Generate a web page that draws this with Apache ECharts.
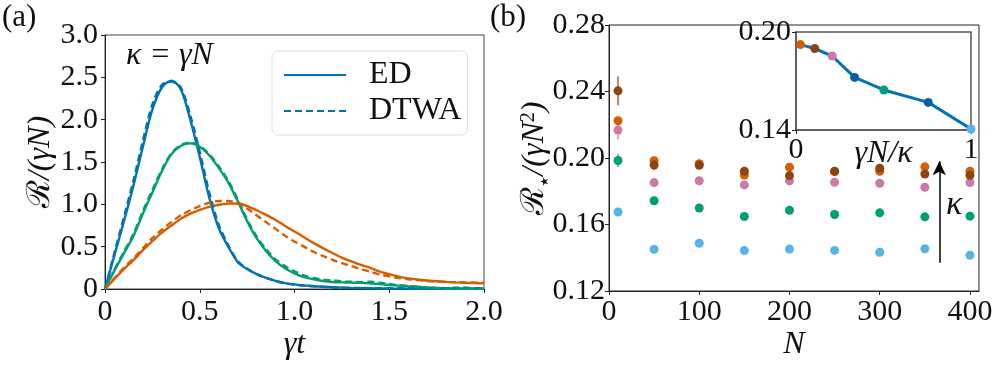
<!DOCTYPE html>
<html>
<head>
<meta charset="utf-8">
<script src="https://cdn.jsdelivr.net/npm/echarts/dist/echarts.min.js"></script>
<style>
  html, body { margin: 0; padding: 0; background: #fff; }
  #chart { width: 997px; height: 366px; }
</style>
</head>
<body>
<div id="chart"></div>
<script>
  // panel (a): emission rate vs time
  const tVals = [0, 0.05, 0.1, 0.15, 0.2, 0.25, 0.3, 0.35, 0.4, 0.45, 0.5, 0.55, 0.6, 0.65, 0.7, 0.75, 0.8, 0.85, 0.9, 0.95,
    1, 1.05, 1.1, 1.15, 1.2, 1.25, 1.3, 1.35, 1.4, 1.45, 1.5, 1.55, 1.6, 1.65, 1.7, 1.75, 1.8, 1.85, 1.9, 1.95, 2]
  const blueED = [0, 0.40, 0.80, 1.22, 1.68, 2.12, 2.38, 2.46, 2.36, 2.00, 1.56, 1.08, 0.72, 0.50, 0.32, 0.235, 0.175, 0.13, 0.095, 0.07,
    0.054, 0.043, 0.034, 0.027, 0.021, 0.016, 0.012, 0.010, 0.008, 0.006, 0.005, 0.004, 0.004, 0.003, 0.003, 0.002, 0.002, 0.002, 0.002, 0.002, 0.002]
  const blueDTWA = [0, 0.43, 0.85, 1.28, 1.75, 2.18, 2.41, 2.45, 2.38, 2.05, 1.62, 1.14, 0.76, 0.52, 0.33, 0.24, 0.175, 0.13, 0.095, 0.068,
    0.05, 0.04, 0.032, 0.026, 0.02, 0.017, 0.014, 0.012, 0.01, 0.01, 0.009, 0.008, 0.01, 0.012, 0.01, 0.008, 0.01, 0.014, 0.016, 0.01, 0.008]
  const greenED = [0, 0.22, 0.42, 0.625, 0.89, 1.14, 1.39, 1.59, 1.69, 1.72, 1.68, 1.58, 1.43, 1.26, 1.04, 0.80, 0.60, 0.45, 0.33, 0.245,
    0.185, 0.14, 0.115, 0.095, 0.083, 0.078, 0.075, 0.072, 0.066, 0.058, 0.048, 0.04, 0.032, 0.026, 0.018, 0.012, 0.008, 0.006, 0.005, 0.004, 0.004]
  const greenDTWA = [0, 0.23, 0.44, 0.65, 0.92, 1.17, 1.41, 1.60, 1.70, 1.73, 1.69, 1.59, 1.45, 1.28, 1.06, 0.82, 0.62, 0.47, 0.35, 0.27,
    0.21, 0.16, 0.13, 0.11, 0.10, 0.09, 0.085, 0.08, 0.085, 0.075, 0.06, 0.045, 0.035, 0.025, 0.018, 0.012, 0.01, 0.008, 0.006, 0.005, 0.005]
  const orangeED = [0, 0.12, 0.235, 0.34, 0.46, 0.565, 0.665, 0.75, 0.83, 0.89, 0.935, 0.97, 0.995, 1.008, 1.01, 0.98, 0.93, 0.875, 0.815, 0.745,
    0.68, 0.612, 0.545, 0.483, 0.425, 0.37, 0.325, 0.285, 0.25, 0.205, 0.175, 0.146, 0.125, 0.112, 0.1, 0.092, 0.084, 0.078, 0.073, 0.069, 0.066]
  const orangeDTWA = [0, 0.13, 0.25, 0.36, 0.48, 0.60, 0.70, 0.79, 0.87, 0.93, 0.98, 1.02, 1.04, 1.04, 1.01, 0.95, 0.87, 0.79, 0.71, 0.63,
    0.56, 0.50, 0.44, 0.39, 0.345, 0.305, 0.27, 0.235, 0.205, 0.17, 0.15, 0.13, 0.115, 0.105, 0.095, 0.088, 0.082, 0.08, 0.078, 0.076, 0.075]

  // panel (b): peak rate vs N
  const nVals = [10, 50, 100, 150, 200, 250, 300, 350, 400]
  const rLightBlue = [0.1675, 0.1450, 0.1487, 0.1443, 0.1452, 0.1444, 0.1433, 0.1454, 0.1415]
  const rGreen = [0.1985, 0.1743, 0.1699, 0.1648, 0.1685, 0.1660, 0.1670, 0.1646, 0.1650]
  const rPink = [0.2168, 0.1852, 0.1863, 0.1838, 0.1863, 0.1854, 0.1848, 0.1824, 0.1852]
  const rOrange = [0.2224, 0.1984, 0.1966, 0.1898, 0.1945, 0.1918, 0.1920, 0.1947, 0.1921]
  const rBrown = [0.2404, 0.1958, 0.1956, 0.1920, 0.1894, 0.1920, 0.1939, 0.1904, 0.1896]
  const eLightBlue = [0.0024, 0, 0, 0, 0, 0, 0, 0, 0]
  const eGreen = [0.004, 0, 0, 0, 0, 0, 0, 0, 0]
  const ePink = [0.0055, 0.001, 0, 0, 0, 0, 0, 0, 0]
  const eOrange = [0.002, 0, 0, 0, 0, 0, 0, 0, 0]
  const eBrown = [0.0087, 0.003, 0.0015, 0.001, 0, 0, 0.001, 0, 0]
  const nTicks = [0, 100, 200, 300, 400]
  const rTicks = [0.12, 0.16, 0.2, 0.24, 0.28]

  // inset: large-N value vs gammaN/kappa
  const insetX = [0.025, 0.107, 0.207, 0.335, 0.502, 0.756, 1]
  const insetY = [0.1923, 0.1899, 0.1853, 0.1722, 0.1645, 0.1569, 0.1406]
  const insetColors = ['#d55e00', '#8b4513', '#cc79a7', '#0a5f9e', '#009e73', '#0a5f9e', '#56b4e9']

  const SERIF = 'Liberation Serif'
  const BLUE = '#0173b2'
  const GREEN = '#029e73'
  const ORANGE = '#d55e00'

  const pairs = (xs, ys) => xs.map((x, i) => [x, ys[i]])
  const fmt1 = v => (v === 0 ? '0' : v.toFixed(1))

  let chart = echarts.init(document.getElementById('chart'))

  function curve(name, ys, color, dashed) {
    return {
      name: name,
      type: 'line',
      xAxisIndex: 0,
      yAxisIndex: 0,
      data: pairs(tVals, ys),
      smooth: 0.3,
      symbol: 'none',
      lineStyle: { color: color, width: 2.4, type: dashed ? [7, 4] : 'solid' },
      itemStyle: { color: color },
      z: dashed ? 3 : 2
    }
  }

  function dots(ys, color) {
    return {
      type: 'scatter',
      xAxisIndex: 1,
      yAxisIndex: 1,
      data: pairs(nVals, ys),
      symbolSize: 9,
      itemStyle: { color: color, opacity: 1 },
      z: 3
    }
  }

  function errBars(ys, errs, color) {
    return {
      type: 'custom',
      xAxisIndex: 1,
      yAxisIndex: 1,
      data: nVals.map((n, i) => [n, ys[i], errs[i]]),
      renderItem: (params, api) => {
        let lo = api.coord([api.value(0), api.value(1) - api.value(2)])
        let hi = api.coord([api.value(0), api.value(1) + api.value(2)])
        return {
          type: 'line',
          shape: { x1: lo[0], y1: lo[1], x2: hi[0], y2: hi[1] },
          style: { stroke: color, lineWidth: 2.2, opacity: 0.6 }
        }
      },
      z: 2
    }
  }

  function label(extra) {
    return Object.assign({ color: '#111', fontFamily: SERIF, fontSize: 30 }, extra)
  }
  function tick(extra) {
    return Object.assign({ inside: false, length: 4, lineStyle: { color: '#222' } }, extra)
  }
  const nameStyle = { color: '#111', fontFamily: SERIF, fontSize: 32, fontStyle: 'italic' }
  const plainLine = { lineStyle: { color: '#222', width: 1 } }
  const insetLine = { lineStyle: { color: '#555', width: 1.5 } }

  chart.setOption({
    animationDuration: 0,
    animationDurationUpdate: 0,
    textStyle: { fontFamily: SERIF },
    grid: [
      { left: 105, top: 35, width: 379, height: 258, show: true, borderColor: '#444', borderWidth: 1 },
      { left: 609, top: 25, width: 370, height: 275, show: true, borderColor: '#222', borderWidth: 1 },
      { left: 796, top: 32, width: 175, height: 98, show: true, borderColor: '#555', borderWidth: 1.5, backgroundColor: '#fff' }
    ],
    xAxis: [
      {
        gridIndex: 0, type: 'value', min: 0, max: 2, interval: 0.5,
        name: 'γt', nameLocation: 'middle', nameGap: 40, nameMoveOverlap: false, nameTextStyle: nameStyle,
        axisLine: plainLine, axisTick: tick({}), splitLine: { show: false },
        axisLabel: label({ margin: 8, formatter: fmt1 })
      },
      {
        gridIndex: 1, type: 'value', min: 0, max: 410,
        name: 'N', nameLocation: 'middle', nameGap: 38, nameMoveOverlap: false, nameTextStyle: nameStyle,
        axisLine: plainLine, axisTick: tick({ customValues: nTicks }), splitLine: { show: false },
        axisLabel: label({ margin: 6, customValues: nTicks })
      },
      {
        gridIndex: 2, type: 'value', min: 0, max: 1,
        name: 'γN/κ', nameLocation: 'middle', nameGap: 8, nameMoveOverlap: false, nameTextStyle: nameStyle,
        axisLine: insetLine, axisTick: tick({ customValues: [0, 1] }), splitLine: { show: false },
        axisLabel: label({ margin: 5, customValues: [0, 1] })
      }
    ],
    yAxis: [
      {
        gridIndex: 0, type: 'value', min: 0, max: 3, interval: 0.5,
        name: '{r|ℛ}{n|/(γN)}', nameLocation: 'middle', nameGap: 48, nameMoveOverlap: false,
        nameTextStyle: {
          rich: {
            r: { fontFamily: SERIF, fontSize: 32, color: '#111' },
            n: { fontFamily: SERIF, fontSize: 32, fontStyle: 'italic', color: '#111' }
          }
        },
        axisLine: plainLine, axisTick: tick({}), splitLine: { show: false },
        axisLabel: label({ margin: 7, formatter: fmt1 })
      },
      {
        gridIndex: 1, type: 'value', min: 0.12, max: 0.28,
        name: '{r|ℛ}{s|★}{n|/(γN}{p|2}{n|)}', nameLocation: 'middle', nameGap: 58, nameMoveOverlap: false,
        nameTextStyle: {
          rich: {
            r: { fontFamily: SERIF, fontSize: 32, color: '#111' },
            s: { fontFamily: 'DejaVu Sans', fontSize: 11, color: '#111', verticalAlign: 'bottom', padding: [16, 1, 0, 0] },
            n: { fontFamily: SERIF, fontSize: 32, fontStyle: 'italic', color: '#111' },
            p: { fontFamily: SERIF, fontSize: 20, color: '#111', verticalAlign: 'top', padding: [0, 0, 12, 0] }
          }
        },
        axisLine: plainLine, axisTick: tick({ customValues: rTicks }), splitLine: { show: false },
        axisLabel: label({ margin: 4, customValues: rTicks, formatter: v => v.toFixed(2) })
      },
      {
        gridIndex: 2, type: 'value', min: 0.14, max: 0.2,
        axisLine: insetLine, axisTick: tick({ customValues: [0.14, 0.2] }), splitLine: { show: false },
        axisLabel: label({ margin: 5, customValues: [0.14, 0.2], formatter: v => v.toFixed(2) })
      }
    ],
    legend: {
      data: ['ED', 'DTWA'],
      orient: 'vertical',
      left: 272,
      top: 51,
      padding: [8, 6, 8, 11],
      itemGap: 4,
      itemWidth: 62,
      itemHeight: 14,
      itemStyle: { opacity: 0 },
      borderColor: '#ddd',
      borderWidth: 1,
      borderRadius: 6,
      textStyle: { fontFamily: SERIF, fontSize: 32, color: '#111', padding: [0, 0, 0, 18] }
    },
    graphic: [
      { type: 'text', left: 2, top: 2, style: { text: '(a)', fontFamily: SERIF, fontSize: 31, fill: '#111' } },
      { type: 'text', left: 490, top: 2, style: { text: '(b)', fontFamily: SERIF, fontSize: 31, fill: '#111' } },
      { type: 'text', left: 126, top: 40, style: { text: 'κ = γN', fontFamily: SERIF, fontStyle: 'italic', fontSize: 32, fill: '#111' } },
      { type: 'text', left: 946, top: 188, style: { text: 'κ', fontFamily: SERIF, fontStyle: 'italic', fontSize: 34, fill: '#111' } }
    ],
    series: [
      curve('ED', blueED, BLUE, false),
      curve('DTWA', blueDTWA, BLUE, true),
      curve('ED green', greenED, GREEN, false),
      curve('DTWA green', greenDTWA, GREEN, true),
      curve('ED orange', orangeED, ORANGE, false),
      curve('DTWA orange', orangeDTWA, ORANGE, true),
      errBars(rLightBlue, eLightBlue, '#56b4e9'),
      errBars(rGreen, eGreen, '#009e73'),
      errBars(rPink, ePink, '#cc79a7'),
      errBars(rOrange, eOrange, '#d55e00'),
      errBars(rBrown, eBrown, '#8b4513'),
      dots(rLightBlue, '#56b4e9'),
      dots(rGreen, '#009e73'),
      dots(rPink, '#cc79a7'),
      dots(rOrange, '#d55e00'),
      Object.assign(dots(rBrown, '#8b4513'), {
        markLine: {
          silent: true,
          symbol: ['none', 'arrow'],
          symbolSize: [10, 14],
          label: { show: false },
          lineStyle: { color: '#000', width: 1.5, type: 'solid' },
          data: [[{ coord: [366, 0.137] }, { coord: [366, 0.198] }]]
        }
      }),
      {
        type: 'line',
        xAxisIndex: 2,
        yAxisIndex: 2,
        data: insetX.map((x, i) => ({ value: [x, insetY[i]], itemStyle: { color: insetColors[i] } })),
        symbol: 'circle',
        symbolSize: 9,
        lineStyle: { color: BLUE, width: 3 },
        z: 5
      }
    ]
  })
</script>
</body>
</html>
